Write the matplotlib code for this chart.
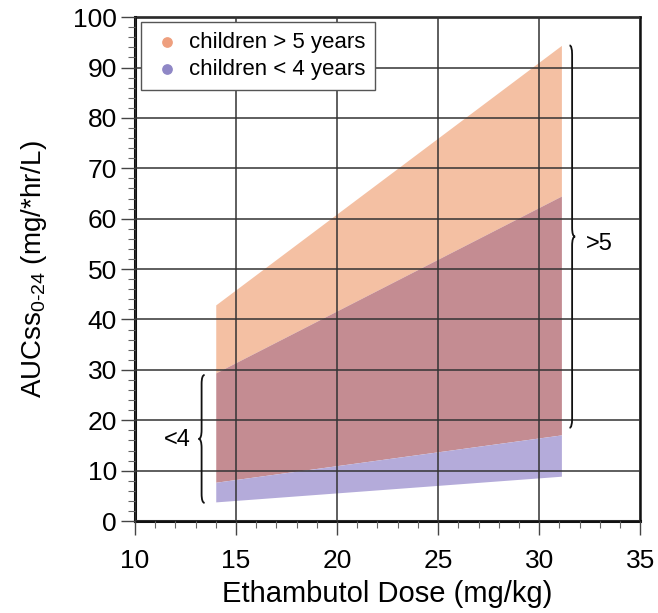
import matplotlib
matplotlib.use("Agg")
import matplotlib.pyplot as plt
from matplotlib.path import Path
from matplotlib.patches import PathPatch
import numpy as np

plt.rcParams['font.family'] = ['Liberation Sans', 'DejaVu Sans']
plt.rcParams['mathtext.fontset'] = 'custom'
plt.rcParams['mathtext.rm'] = 'Liberation Sans'
plt.rcParams['mathtext.it'] = 'Liberation Sans'

# Data
dose = [14.0, 31.1]
older_lower = [7.7, 17.1]   # children > 5 years
older_upper = [42.9, 94.4]
young_lower = [3.8, 8.9]    # children < 4 years
young_upper = [29.4, 64.5]
legend_labels = ["children > 5 years", "children < 4 years"]

c_orange = '#F4C0A3'
c_purple = '#B4ABDA'
c_mix = '#C48C92'

fig = plt.figure(figsize=(6.58, 6.13), dpi=100)
ax = fig.add_axes([0.205, 0.150, 0.768, 0.822])

ax.fill_between(dose, young_upper, older_upper, color=c_orange, lw=0, zorder=1)
ax.fill_between(dose, older_lower, young_upper, color=c_mix, lw=0, zorder=1)
ax.fill_between(dose, young_lower, older_lower, color=c_purple, lw=0, zorder=1)

ax.set_xlim(10, 35)
ax.set_ylim(0, 100)
ax.set_xticks(np.arange(10, 36, 5))
ax.set_yticks(np.arange(0, 101, 10))
ax.set_xticks(np.arange(10, 36, 1), minor=True)
ax.set_yticks(np.arange(0, 101, 2), minor=True)
ax.grid(True, which='major', color='#333333', lw=1.1, zorder=2)
ax.set_axisbelow(False)
ax.tick_params(which='major', direction='out', length=10, width=1, labelsize=19, color='#444444')
ax.tick_params(axis='x', which='major', pad=10)
ax.tick_params(axis='y', which='major', pad=3)
ax.tick_params(which='minor', direction='out', length=5, width=0.8, color='#666666')
for side in ['left', 'bottom']:
    ax.spines[side].set_linewidth(2.2)
for side in ['top', 'right']:
    ax.spines[side].set_linewidth(1.8)
for s in ax.spines.values():
    s.set_color('#111111')

ax.set_xlabel('Ethambutol Dose (mg/kg)', fontsize=21, labelpad=5)
ax.set_ylabel(r'AUCss$_{\mathrm{0\text{-}24}}$ (mg/*hr/L)', fontsize=20, labelpad=17)

# legend
h1 = ax.scatter([], [], s=45, color='#EE9F7E', label=legend_labels[0])
h2 = ax.scatter([], [], s=45, color='#8F87C6', label=legend_labels[1])
leg = ax.legend(handles=[h1, h2], loc='upper left', fontsize=16, fancybox=False,
                framealpha=1, edgecolor='#555555', handletextpad=0.3,
                borderpad=0.45, labelspacing=0.25, bbox_to_anchor=(0.012, 0.99),
                scatterpoints=1, handlelength=1.4, borderaxespad=0)
leg.get_frame().set_linewidth(1.0)
leg.set_zorder(5)

def brace(ax, x_end, x_spine, x_tip, y0, y1, d=1.8):
    y0, y1 = min(y0, y1), max(y0, y1)
    ym = (y0 + y1) / 2
    verts = [(x_end, y0), (x_spine, y0), (x_spine, y0 + d),
             (x_spine, ym - d), (x_spine, ym), (x_tip, ym),
             (x_spine, ym), (x_spine, ym + d),
             (x_spine, y1 - d), (x_spine, y1), (x_end, y1)]
    codes = [Path.MOVETO, Path.CURVE3, Path.CURVE3,
             Path.LINETO, Path.CURVE3, Path.CURVE3,
             Path.CURVE3, Path.CURVE3,
             Path.LINETO, Path.CURVE3, Path.CURVE3]
    ax.add_patch(PathPatch(Path(verts, codes), fill=False, lw=1.3, color='#111111',
                           zorder=4, clip_on=False))

brace(ax, 13.45, 13.3, 13.15, 3.6, 29.0)
brace(ax, 31.5, 31.63, 31.78, 18.5, 94.4)
ax.text(12.1, 16.0, '<4', fontsize=17, ha='center', va='center', zorder=4)
ax.text(33.0, 55.0, '>5', fontsize=17, ha='center', va='center', zorder=4)

fig.savefig('out.png', dpi=100, facecolor='white')
